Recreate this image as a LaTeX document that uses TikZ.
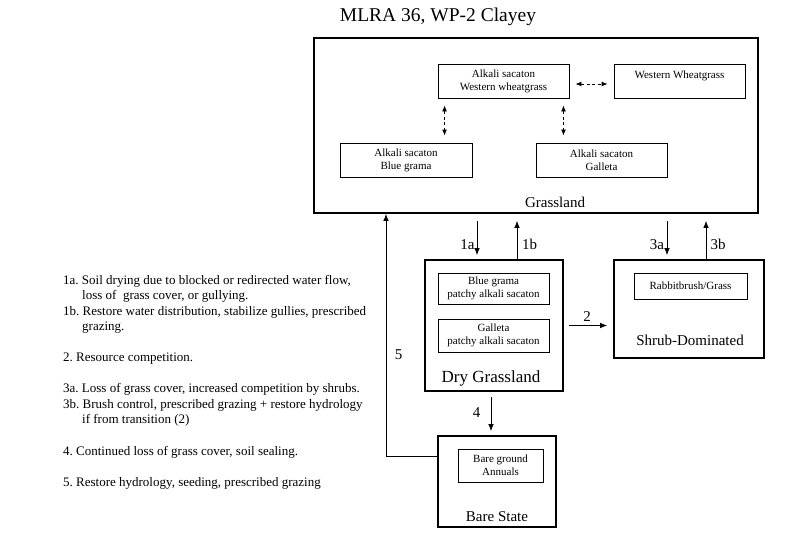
\documentclass[tikz,border=0pt]{standalone}
\usepackage{fontspec}
\setmainfont{Liberation Serif}
\usepackage{tikz}
\usetikzlibrary{arrows.meta}
\frenchspacing

\begin{document}
\begin{tikzpicture}[x=1pt, y=-1pt,
  outerbox/.style={rectangle, black, draw, line width=1.6pt, inner sep=0pt},
  innerbox/.style={rectangle, black, draw, line width=0.9pt, inner sep=0pt, align=center,
    font=\fontsize{11}{12.8}\selectfont},
  statename/.style={anchor=base, font=\fontsize{15}{18}\selectfont},
  numlabel/.style={anchor=base, font=\fontsize{15}{18}\selectfont},
  note/.style={anchor=base west, align=left, inner sep=0pt, font=\fontsize{13}{15.5}\selectfont},
  arr/.style={-{Latex[length=7pt,width=5.5pt]}, line width=0.9pt},
  dasharr/.style={{Latex[length=6pt,width=5pt]}-{Latex[length=6pt,width=5pt]}, line width=0.9pt,
    dash pattern=on 3pt off 2.5pt}]
\useasboundingbox (0,0) rectangle (800,541);

\node[anchor=base, font=\fontsize{19.5}{22}\selectfont] (title) at (438,21) {MLRA 36, WP-2 Clayey};

% states
\draw
(536,125.5) node[outerbox, minimum width=444pt, minimum height=175pt](grass){}
(494,325.5) node[outerbox, minimum width=138pt, minimum height=131pt](dry){}
(689,309) node[outerbox, minimum width=150pt, minimum height=98pt](shrub){}
(497,481.5) node[outerbox, minimum width=118pt, minimum height=91pt](bare){};

\node[statename] (grassname) at (555,207) {Grassland};
\node[statename, font=\fontsize{17}{20}\selectfont] (dryname) at (491,382) {Dry Grassland};
\node[statename] (shrubname) at (690,345) {Shrub-Dominated};
\node[statename] (barename) at (497,521) {Bare State};

% communities
\draw
(503.5,81) node[innerbox, minimum width=131pt, minimum height=34pt](aw){Alkali sacaton\\Western wheatgrass}
(679.5,81) node[innerbox, minimum width=131pt, minimum height=34pt](ww){Western Wheatgrass\\~}
(406,160) node[innerbox, minimum width=132pt, minimum height=34pt](ab){Alkali sacaton\\Blue grama}
(601.5,160) node[innerbox, minimum width=131pt, minimum height=34pt](ag){Alkali sacaton\\Galleta}
(493.5,288.5) node[innerbox, minimum width=111pt, minimum height=31pt](bp){Blue grama\\patchy alkali sacaton}
(493.5,335.5) node[innerbox, minimum width=111pt, minimum height=33pt](gp){Galleta\\patchy alkali sacaton}
(690.5,286) node[innerbox, minimum width=113pt, minimum height=26pt](rab){Rabbitbrush/Grass}
(500.5,465.5) node[innerbox, minimum width=85pt, minimum height=33pt](bga){Bare ground\\Annuals};

\draw[dasharr, shorten <=6pt, shorten >=6pt] (aw.east |- 0,84) -- (ww.west |- 0,84);
\draw[dasharr, shorten <=7pt, shorten >=7pt] ([xshift=7pt]aw.south west) -- ([xshift=7pt]aw.south west |- ab.north);
\draw[dasharr, shorten <=7pt, shorten >=7pt] ([xshift=-6pt]aw.south east) -- ([xshift=-6pt]aw.south east |- ag.north);

% transitions
\coordinate (t1a) at (477,0);
\coordinate (t1b) at (517,0);
\coordinate (t3a) at (667,0);
\coordinate (t3b) at (706,0);
\coordinate (t4) at (491,0);
\coordinate (t5) at (386,456);

\draw[arr, shorten <=7pt, shorten >=4pt] (t1a |- grass.south) -- (t1a |- dry.north);
\draw[arr, shorten >=7pt] (t1b |- dry.north) -- (t1b |- grass.south);
\draw[arr, shorten <=7pt, shorten >=4pt] (t3a |- grass.south) -- (t3a |- shrub.north);
\draw[arr, shorten >=7pt] (t3b |- shrub.north) -- (t3b |- grass.south);
\draw[arr, shorten <=5pt, shorten >=6pt] (dry.east) -- (dry.east -| shrub.west);
\draw[arr, shorten <=5pt, shorten >=4pt] (t4 |- dry.south) -- (t4 |- bare.north);
\draw[arr] (t5 -| bare.west) -- (t5) -- (t5 |- grass.south);

\node[numlabel] (l1a) at (467.5,249) {1a};
\node[numlabel] (l1b) at (529.5,249) {1b};
\node[numlabel] (l3a) at (657,249) {3a};
\node[numlabel] (l3b) at (718,249) {3b};
\node[numlabel] (l2) at (587,321) {2};
\node[numlabel] (l4) at (476.5,417) {4};
\node[numlabel] (l5) at (398.5,359) {5};

% key (base = last line)
\node[note] (n1) at (63,330.5) {1a. Soil drying due to blocked or redirected water flow,\\
\hspace*{19pt}loss of\ \ grass cover, or gullying.\\
1b. Restore water distribution, stabilize gullies, prescribed\\
\hspace*{19pt}grazing.};
\node[note] (n2) at (63,361.5) {2. Resource competition.};
\node[note] (n3) at (63,423.5) {3a. Loss of grass cover, increased competition by shrubs.\\
3b. Brush control, prescribed grazing + restore hydrology\\
\hspace*{19pt}if from transition (2)};
\node[note] (n4) at (63,455) {4. Continued loss of grass cover, soil sealing.};
\node[note] (n5) at (63,486) {5. Restore hydrology, seeding, prescribed grazing};

\end{tikzpicture}
\end{document}
